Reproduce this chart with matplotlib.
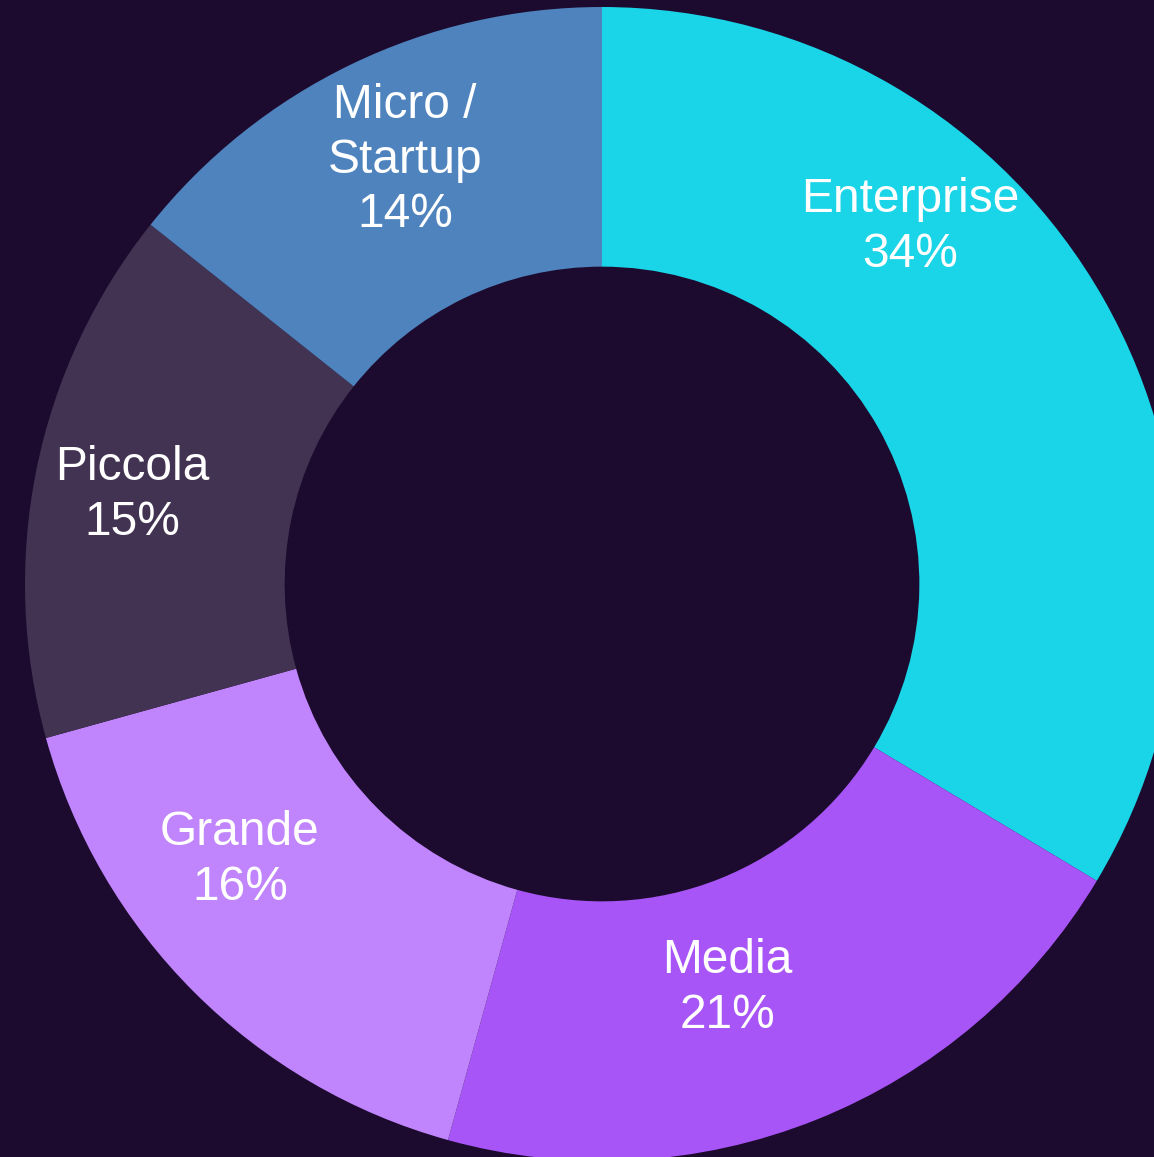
import numpy as np
import matplotlib
matplotlib.use("Agg")
from matplotlib import pyplot as plt

# share of companies by size
labels = ['Enterprise', 'Media', 'Grande', 'Piccola', 'Micro /\nStartup']
values = [33.6, 20.7, 16.4, 15.0, 14.3]
colors = ['#1AD4E8', '#A855F7', '#C084FC', '#433352', '#4F83BE']

bg = '#1C0B2E'
plt.rcParams['font.family'] = ['Liberation Sans', 'DejaVu Sans']

fig = plt.figure(figsize=(11.54, 11.57), dpi=100, facecolor=bg)
ax = fig.add_axes([0, 0, 1, 1])
ax.set_facecolor(bg)

wedges, _ = ax.pie(values, colors=colors, startangle=90, counterclock=False,
                   radius=1.0, wedgeprops=dict(width=0.45, linewidth=0))

# label placement: mid angle of wedge, nudged a bit where text needs room
nudge = [19.7, -4.5, -7.7, 0.8, -0.8]
rdist = [0.817, 0.733, 0.789, 0.829, 0.81]
total = sum(values)
for w, lab, v, dn, rd in zip(wedges, labels, values, nudge, rdist):
    mid = np.deg2rad((w.theta1 + w.theta2) / 2 + dn)
    pct = round(v / total * 100)
    ax.text(rd * np.cos(mid), rd * np.sin(mid), f'{lab}\n{pct}%',
            ha='center', va='center', color='white', fontsize=34.5,
            linespacing=1.27)

ax.set_xlim(-602 / 577, (1154 - 602) / 577)
ax.set_ylim(-(1157 - 584) / 577, 584 / 577)
ax.set_aspect('auto')
ax.axis('off')

fig.savefig('out.png', dpi=100, facecolor=bg)
